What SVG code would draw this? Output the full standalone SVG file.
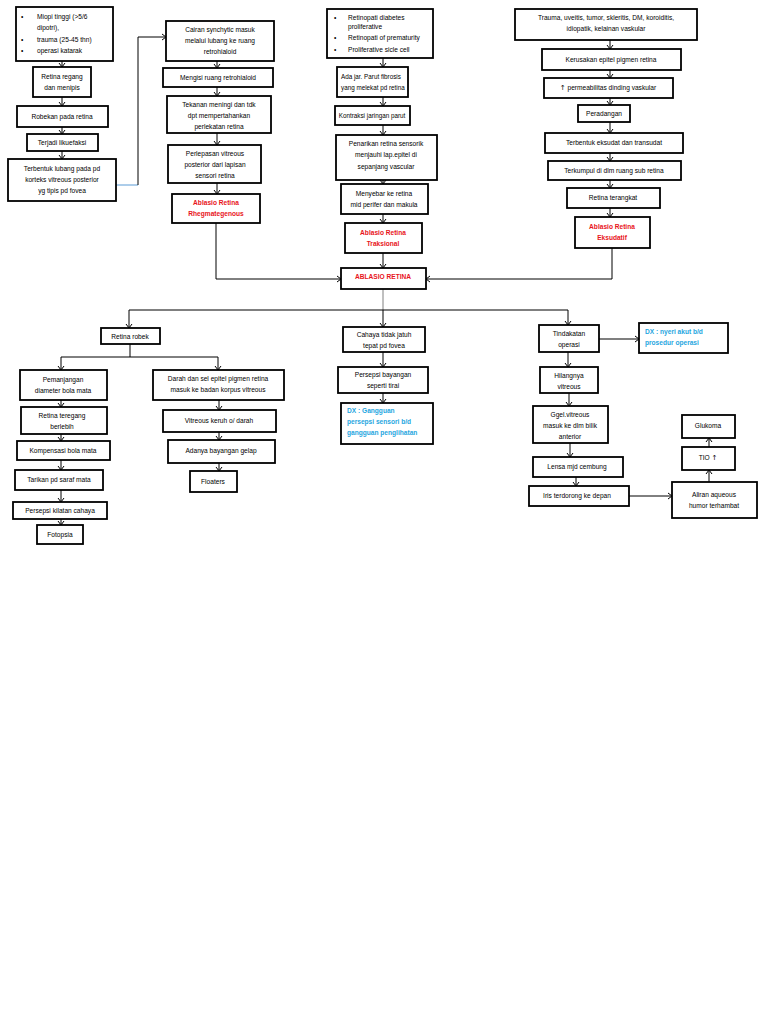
<svg xmlns="http://www.w3.org/2000/svg" width="768" height="1024" viewBox="0 0 768 1024">
<style>
rect{fill:#fff;stroke:#000;stroke-width:1.8}
text{font-family:"Liberation Sans",Arial,sans-serif;font-size:6.6px;fill:#000;text-anchor:middle}
.l{text-anchor:start}
text.s{font-size:6.3px}
.r{fill:#e8141b;font-weight:bold}
.b{fill:#1fa6e0;font-weight:bold;text-anchor:start}
.u{font-family:"DejaVu Sans",sans-serif;font-size:7px}
#conn path{fill:none;stroke:#000;stroke-width:1}
</style>
<defs>
<marker id="ah" viewBox="-1 -4 6 8" refX="4" refY="0" markerWidth="6" markerHeight="8" markerUnits="userSpaceOnUse" orient="auto">
<path d="M0,-3 L4,0 L0,3" fill="none" stroke="#000" stroke-width="1"/>
</marker>
</defs>
<rect width="768" height="1024" style="fill:#fff;stroke:none"/>
<g id="conn">
<path d="M62,61V67" marker-end="url(#ah)"/>
<path d="M62,97V106" marker-end="url(#ah)"/>
<path d="M62,127V134" marker-end="url(#ah)"/>
<path d="M62,151V159" marker-end="url(#ah)"/>
<path d="M116,185H138" style="stroke:#5b9bd5"/>
<path d="M138,185V37H166" marker-end="url(#ah)"/>
<path d="M217,61V68" marker-end="url(#ah)"/>
<path d="M217,87V96" marker-end="url(#ah)"/>
<path d="M217,133V145" marker-end="url(#ah)"/>
<path d="M217,183V194" marker-end="url(#ah)"/>
<path d="M216,223V279H341" marker-end="url(#ah)"/>
<path d="M383,58V67" marker-end="url(#ah)"/>
<path d="M383,97V106" marker-end="url(#ah)"/>
<path d="M383,125V135" marker-end="url(#ah)"/>
<path d="M383,180V184" marker-end="url(#ah)"/>
<path d="M383,214V223" marker-end="url(#ah)"/>
<path d="M383,253V268" marker-end="url(#ah)"/>
<path d="M610,40V49" marker-end="url(#ah)"/>
<path d="M610,70V78" marker-end="url(#ah)"/>
<path d="M610,98V105" marker-end="url(#ah)"/>
<path d="M610,122V133" marker-end="url(#ah)"/>
<path d="M610,153V161" marker-end="url(#ah)"/>
<path d="M610,180V188" marker-end="url(#ah)"/>
<path d="M610,208V217" marker-end="url(#ah)"/>
<path d="M612,248V279H426" marker-end="url(#ah)"/>
<path d="M383,289V310" style="stroke:#808080"/>
<path d="M383,310V327" marker-end="url(#ah)"/>
<path d="M383,310H129V328" marker-end="url(#ah)"/>
<path d="M383,310H568V325" marker-end="url(#ah)"/>
<path d="M130,344V357H61V370" marker-end="url(#ah)"/>
<path d="M130,357H218V370" marker-end="url(#ah)"/>
<path d="M61,400V407" marker-end="url(#ah)"/>
<path d="M61,434V441" marker-end="url(#ah)"/>
<path d="M61,460V470" marker-end="url(#ah)"/>
<path d="M61,490V502" marker-end="url(#ah)"/>
<path d="M61,519V525" marker-end="url(#ah)"/>
<path d="M219,400V410" marker-end="url(#ah)"/>
<path d="M219,432V440" marker-end="url(#ah)"/>
<path d="M219,463V471" marker-end="url(#ah)"/>
<path d="M383,352V367" marker-end="url(#ah)"/>
<path d="M383,393V403" marker-end="url(#ah)"/>
<path d="M599,339H639" marker-end="url(#ah)" style="stroke:#555;stroke-width:1.4"/>
<path d="M568,352V367" marker-end="url(#ah)"/>
<path d="M569,393V406" marker-end="url(#ah)"/>
<path d="M570,443V457" marker-end="url(#ah)"/>
<path d="M576,477V486" marker-end="url(#ah)"/>
<path d="M629,496H672" marker-end="url(#ah)"/>
<path d="M709,482V470" marker-end="url(#ah)"/>
<path d="M709,447V438" marker-end="url(#ah)"/>
</g>
<g id="A1"><rect x="16" y="7" width="97" height="54"/>
<text class="l" x="21" y="19">•</text><text class="l" x="37" y="19">Miopi tinggi (&gt;5/6</text>
<text class="l" x="37" y="30">dipotri),</text>
<text class="l" x="21" y="42">•</text><text class="l" x="37" y="42">trauma (25-45 thn)</text>
<text class="l" x="21" y="53">•</text><text class="l" x="37" y="53">operasi katarak</text></g>
<g id="A2"><rect x="33" y="67" width="58" height="30"/><text x="62" y="79">Retina regang</text><text x="62" y="90">dan menipis</text></g>
<g id="A3"><rect x="17" y="106" width="91" height="21"/><text x="62" y="119">Robekan pada retina</text></g>
<g id="A4"><rect x="27" y="134" width="71" height="17"/><text x="62" y="145">Terjadi likuefaksi</text></g>
<g id="A5"><rect x="8" y="159" width="108" height="42"/><text x="62" y="171">Terbentuk lubang pada pd</text><text x="62" y="182">korteks vitreous posterior</text><text x="62" y="193">yg tipis pd fovea</text></g>
<g id="B1"><rect x="166" y="21" width="108" height="40"/><text x="220" y="32">Cairan synchytic masuk</text><text x="220" y="43">melalui lubang ke ruang</text><text x="220" y="54">retrohialoid</text></g>
<g id="B2"><rect x="163" y="68" width="110" height="19"/><text x="218" y="80">Mengisi ruang retrohialoid</text></g>
<g id="B3"><rect x="167" y="96" width="104" height="37"/><text x="219" y="107">Tekanan meningi dan tdk</text><text x="219" y="118">dpt mempertahankan</text><text x="219" y="129">perlekatan retina</text></g>
<g id="B4"><rect x="168" y="145" width="93" height="38"/><text x="215" y="156">Perlepasan vitreous</text><text x="215" y="167">posterior dari lapisan</text><text x="215" y="178">sensori retina</text></g>
<g id="B5"><rect x="172" y="194" width="88" height="29"/><text class="r" x="216" y="205">Ablasio Retina</text><text class="r" x="216" y="216">Rhegmategenous</text></g>
<g id="C1"><rect x="327" y="9" width="106" height="49"/>
<text class="l" x="334" y="20">•</text><text class="l" x="348" y="20">Retinopati diabetes</text>
<text class="l" x="348" y="29">proliferative</text>
<text class="l" x="334" y="40">•</text><text class="l" x="348" y="40">Retinopati of prematurity</text>
<text class="l" x="334" y="52">•</text><text class="l" x="348" y="52">Proliferative sicle cell</text></g>
<g id="C2"><rect x="337" y="67" width="71" height="30"/><text class="l s" x="341" y="79">Ada jar. Parut fibrosis</text><text class="l s" x="341" y="90">yang melekat pd retina</text></g>
<g id="C3"><rect x="335" y="106" width="75" height="19"/><text class="s" x="372" y="118">Kontraksi jaringan parut</text></g>
<g id="C4"><rect x="336" y="135" width="101" height="45"/><text x="386" y="146">Penarikan retina sensorik</text><text x="386" y="157">menjauhi lap.epitel di</text><text x="386" y="169">sepanjang vascular</text></g>
<g id="C5"><rect x="341" y="184" width="87" height="30"/><text x="384" y="196">Menyebar ke retina</text><text x="384" y="207">mid perifer dan makula</text></g>
<g id="C6"><rect x="345" y="223" width="77" height="30"/><text class="r" x="383" y="235">Ablasio Retina</text><text class="r" x="383" y="246">Traksional</text></g>
<g id="R"><rect x="341" y="268" width="85" height="21"/><text class="r" x="383" y="279">ABLASIO RETINA</text></g>
<g id="D1"><rect x="515" y="9" width="182" height="31"/><text x="606" y="20">Trauma, uveitis, tumor, skleritis, DM, koroiditis,</text><text x="606" y="31">idiopatik, kelainan vaskular</text></g>
<g id="D2"><rect x="542" y="49" width="139" height="21"/><text x="611" y="62">Kerusakan epitel pigmen retina</text></g>
<g id="D3"><rect x="544" y="78" width="129" height="20"/><text x="608" y="90"><tspan class="u">↑</tspan> permeabilitas dinding vaskular</text></g>
<g id="D4"><rect x="578" y="105" width="52" height="17"/><text x="604" y="116">Peradangan</text></g>
<g id="D5"><rect x="545" y="133" width="138" height="20"/><text x="614" y="145">Terbentuk eksudat dan transudat</text></g>
<g id="D6"><rect x="548" y="161" width="133" height="19"/><text x="614" y="173">Terkumpul di dlm ruang sub retina</text></g>
<g id="D7"><rect x="567" y="188" width="93" height="20"/><text x="613" y="200">Retina terangkat</text></g>
<g id="D8"><rect x="575" y="217" width="75" height="31"/><text class="r" x="612" y="229">Ablasio Retina</text><text class="r" x="612" y="240">Eksudatif</text></g>
<g id="RR"><rect x="101" y="328" width="59" height="16"/><text x="130" y="339">Retina robek</text></g>
<g id="E1"><rect x="20" y="370" width="87" height="30"/><text x="63" y="382">Pemanjangan</text><text x="63" y="393">diameter bola mata</text></g>
<g id="E2"><rect x="21" y="407" width="86" height="27"/><text x="62" y="418">Retina teregang</text><text x="62" y="429">berlebih</text></g>
<g id="E3"><rect x="17" y="441" width="93" height="19"/><text x="63" y="453">Kompensasi bola mata</text></g>
<g id="E4"><rect x="15" y="470" width="88" height="20"/><text x="59" y="482">Tarikan pd saraf mata</text></g>
<g id="E5"><rect x="13" y="502" width="94" height="17"/><text x="60" y="513">Persepsi kilatan cahaya</text></g>
<g id="E6"><rect x="37" y="525" width="46" height="19"/><text x="60" y="537">Fotopsia</text></g>
<g id="F1"><rect x="153" y="370" width="131" height="30"/><text x="218" y="381">Darah dan sel epitel pigmen retina</text><text x="218" y="392">masuk ke badan korpus vitreous</text></g>
<g id="F2"><rect x="163" y="410" width="113" height="22"/><text x="219" y="423">Vitreous keruh o/ darah</text></g>
<g id="F3"><rect x="168" y="440" width="107" height="23"/><text x="221" y="453">Adanya bayangan gelap</text></g>
<g id="F4"><rect x="190" y="471" width="47" height="21"/><text x="213" y="484">Floaters</text></g>
<g id="G1"><rect x="343" y="327" width="82" height="25"/><text x="384" y="337">Cahaya tidak jatuh</text><text x="384" y="348">tepat pd fovea</text></g>
<g id="G2"><rect x="338" y="367" width="90" height="26"/><text x="383" y="377">Persepsi bayangan</text><text x="383" y="388">seperti tirai</text></g>
<g id="G3"><rect x="341" y="403" width="92" height="41"/><text class="b" x="347" y="413">DX : Gangguan</text><text class="b" x="347" y="424">persepsi sensori b/d</text><text class="b" x="347" y="435">gangguan penglihatan</text></g>
<g id="H1"><rect x="539" y="325" width="60" height="27"/><text x="569" y="336">Tindakatan</text><text x="569" y="347">operasi</text></g>
<g id="H2"><rect x="639" y="323" width="89" height="30"/><text class="b" x="645" y="334">DX : nyeri akut b/d</text><text class="b" x="645" y="345">prosedur operasi</text></g>
<g id="H3"><rect x="540" y="367" width="58" height="26"/><text x="569" y="378">Hilangnya</text><text x="569" y="389">vitreous</text></g>
<g id="H4"><rect x="533" y="406" width="75" height="37"/><text x="570" y="417">Ggel.vitreous</text><text x="570" y="428">masuk ke dlm bilik</text><text x="570" y="439">anterior</text></g>
<g id="H5"><rect x="533" y="457" width="90" height="20"/><text x="577" y="469">Lensa mjd cembung</text></g>
<g id="H6"><rect x="529" y="486" width="100" height="20"/><text x="577" y="498">Iris terdorong ke depan</text></g>
<g id="I1"><rect x="672" y="482" width="85" height="36"/><text x="714" y="497">Aliran aqueous</text><text x="714" y="508">humor terhambat</text></g>
<g id="I2"><rect x="682" y="447" width="53" height="23"/><text x="708" y="460">TIO <tspan class="u">↑</tspan></text></g>
<g id="I3"><rect x="682" y="415" width="53" height="23"/><text x="708" y="428">Glukoma</text></g>
</svg>
